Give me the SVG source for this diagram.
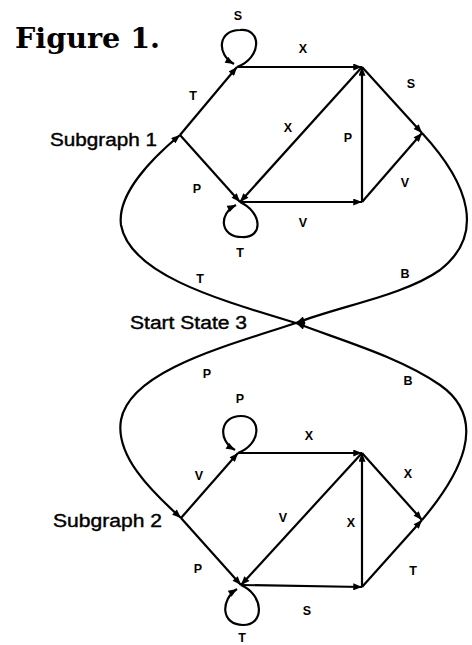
<svg xmlns="http://www.w3.org/2000/svg" width="472" height="645" viewBox="0 0 472 645">
<defs>
<marker id="ah" viewBox="0 0 10 8" refX="10" refY="4" markerUnits="userSpaceOnUse" markerWidth="10" markerHeight="7" orient="auto">
<path d="M0,0 L10,4 L0,8 z" fill="#000"/>
</marker>
</defs>
<style>
.e{fill:none;stroke:#000;stroke-width:2.2;marker-end:url(#ah)}
.l{font-family:"Liberation Sans",Arial,sans-serif;font-size:12.5px;font-weight:bold;text-anchor:middle;fill:#000}
.t{font-family:"Liberation Sans",Arial,sans-serif;font-size:18px;fill:#000;stroke:#000;stroke-width:0.4}
</style>
<rect width="472" height="645" fill="#fff"/>
<text x="15" y="48" font-family="'DejaVu Serif','Liberation Serif',serif" font-weight="bold" font-size="28" textLength="145" lengthAdjust="spacingAndGlyphs">Figure 1.</text>

<g id="connectors">
<!-- subgraph 1 -->
<path class="e" d="M180,135 L237,67"/>
<path class="e" d="M180,135 L240,202"/>
<path class="e" d="M237,67 C262,58 262,28 240,30 C218,30 216,54 234,64"/>
<path class="e" d="M237,67 L362,67"/>
<path class="e" d="M362,67 L422,133"/>
<path class="e" d="M362,67 L240,202"/>
<path class="e" d="M362,202 L362,67"/>
<path class="e" d="M240,202 L362,202"/>
<path class="e" d="M362,202 L422,133"/>
<path class="e" d="M240,202 C262,212 264,238 242,237 C220,237 218,214 236,205"/>
<!-- subgraph 2 -->
<path class="e" d="M181,518 L238,453"/>
<path class="e" d="M181,518 L241,585"/>
<path class="e" d="M238,453 C262,444 262,416 241,416 C220,416 217,440 235,450"/>
<path class="e" d="M238,453 L362,453"/>
<path class="e" d="M362,453 L422,520"/>
<path class="e" d="M362,453 L241,585"/>
<path class="e" d="M362,587 L362,453"/>
<path class="e" d="M241,585 L362,587"/>
<path class="e" d="M362,587 L422,520"/>
<path class="e" d="M241,585 C264,595 265,625 243,625 C221,625 220,600 237,589"/>
<!-- start state curves -->
<path class="e" d="M422,133 C470,185 485,235 440,270 C405,295 340,306 296,323"/>
<path class="e" d="M422,520 C460,475 490,420 440,385 C400,357 340,340 296,323"/>
<path class="e" d="M296,323 C220,300 130,275 121,225 C117,195 150,160 180,135"/>
<path class="e" d="M296,323 C230,345 130,370 121,420 C115,455 150,490 181,518"/>
</g>

<g id="start"><text class="t" x="130" y="329" textLength="117" lengthAdjust="spacingAndGlyphs">Start State 3</text></g>
<g id="sub1"><text class="t" x="50" y="146" textLength="107" lengthAdjust="spacingAndGlyphs">Subgraph 1</text></g>
<g id="sub2"><text class="t" x="53" y="527" textLength="109" lengthAdjust="spacingAndGlyphs">Subgraph 2</text></g>

<g id="labels1">
<text class="l" x="238" y="20">S</text>
<text class="l" x="303" y="53">X</text>
<text class="l" x="411" y="88">S</text>
<text class="l" x="288" y="132">X</text>
<text class="l" x="348" y="142">P</text>
<text class="l" x="405" y="187">V</text>
<text class="l" x="193" y="100">T</text>
<text class="l" x="197" y="193">P</text>
<text class="l" x="303" y="227">V</text>
<text class="l" x="240" y="257">T</text>
<text class="l" x="405" y="278">B</text>
<text class="l" x="200" y="283">T</text>
</g>
<g id="labels2">
<text class="l" x="207" y="378">P</text>
<text class="l" x="408" y="385">B</text>
<text class="l" x="240" y="403">P</text>
<text class="l" x="309" y="440">X</text>
<text class="l" x="408" y="478">X</text>
<text class="l" x="199" y="480">V</text>
<text class="l" x="283" y="522">V</text>
<text class="l" x="351" y="527">X</text>
<text class="l" x="413" y="575">T</text>
<text class="l" x="198" y="573">P</text>
<text class="l" x="307" y="615">S</text>
<text class="l" x="242" y="642" font-size="11">T</text>
</g>
</svg>
